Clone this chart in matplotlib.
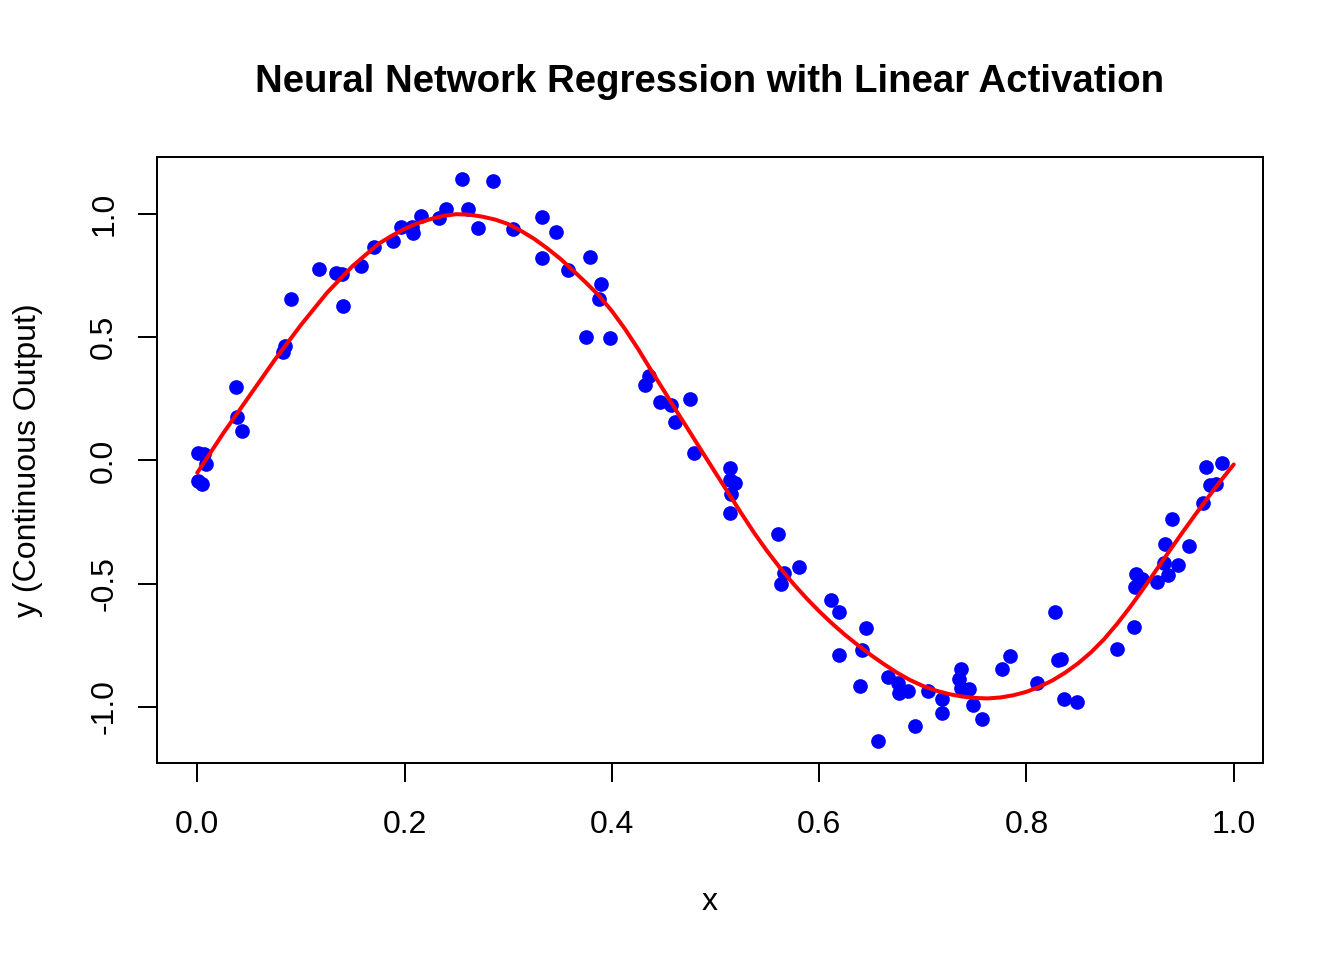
import matplotlib
matplotlib.use('Agg')
import matplotlib.pyplot as plt

plt.rcParams['font.family'] = ['Liberation Sans', 'DejaVu Sans']

x_obs = [0.001, 0.007, 0.008, 0.0007, 0.005, 0.037, 0.038, 0.043, 0.083, 0.085,
         0.090, 0.117, 0.134, 0.140, 0.141, 0.158, 0.171, 0.189, 0.197, 0.2075,
         0.208, 0.216, 0.233, 0.240, 0.255, 0.261, 0.271, 0.2857, 0.305, 0.333,
         0.346, 0.333, 0.358, 0.379, 0.3897, 0.388, 0.375, 0.398, 0.4357, 0.432,
         0.4466, 0.457, 0.475, 0.461, 0.479, 0.514, 0.514, 0.519, 0.515, 0.514,
         0.560, 0.566, 0.5634, 0.581, 0.6117, 0.619, 0.645, 0.641, 0.619, 0.6397,
         0.657, 0.666, 0.676, 0.677, 0.686, 0.705, 0.6925, 0.719, 0.719, 0.737,
         0.7345, 0.737, 0.7445, 0.748, 0.757, 0.776, 0.784, 0.8105, 0.828, 0.830,
         0.833, 0.836, 0.849, 0.887, 0.9035, 0.906, 0.9045, 0.9118, 0.9255, 0.9366,
         0.9463, 0.9324, 0.934, 0.957, 0.940, 0.9704, 0.977, 0.9833, 0.973, 0.9887]
y_obs = [0.030, 0.025, -0.013, -0.085, -0.097, 0.300, 0.175, 0.118, 0.440, 0.465,
         0.656, 0.777, 0.760, 0.757, 0.627, 0.790, 0.868, 0.891, 0.949, 0.946,
         0.922, 0.994, 0.983, 1.021, 1.141, 1.021, 0.944, 1.135, 0.938, 0.989,
         0.928, 0.823, 0.774, 0.828, 0.715, 0.654, 0.503, 0.496, 0.345, 0.306,
         0.237, 0.226, 0.249, 0.158, 0.030, -0.030, -0.080, -0.093, -0.138, -0.215,
         -0.300, -0.456, -0.503, -0.434, -0.567, -0.615, -0.682, -0.768, -0.788, -0.916,
         -1.137, -0.880, -0.902, -0.942, -0.936, -0.936, -1.076, -0.970, -1.026, -0.848,
         -0.888, -0.925, -0.929, -0.994, -1.050, -0.845, -0.794, -0.905, -0.615, -0.810,
         -0.807, -0.970, -0.980, -0.764, -0.675, -0.462, -0.514, -0.480, -0.493, -0.465,
         -0.426, -0.415, -0.341, -0.348, -0.239, -0.174, -0.101, -0.097, -0.027, -0.009]

# fitted network output, read every 0.0125 along x
x_fit = [i * 0.0125 for i in range(81)]
y_fit = [-0.05, 0.03, 0.11, 0.185, 0.26, 0.335, 0.41, 0.48, 0.55, 0.615,
         0.68, 0.735, 0.79, 0.835, 0.88, 0.912, 0.94, 0.963, 0.98, 0.993,
         1.00, 0.998, 0.99, 0.978, 0.96, 0.932, 0.90, 0.862, 0.82, 0.772,
         0.722, 0.67, 0.607, 0.535, 0.455, 0.369, 0.285, 0.20, 0.117, 0.033,
         -0.05, -0.133, -0.215, -0.295, -0.369, -0.437, -0.50, -0.558, -0.612, -0.662,
         -0.708, -0.75, -0.79, -0.827, -0.861, -0.891, -0.915, -0.934, -0.948, -0.958,
         -0.964, -0.966, -0.962, -0.953, -0.939, -0.919, -0.893, -0.861, -0.823, -0.778,
         -0.725, -0.663, -0.595, -0.522, -0.446, -0.37, -0.295, -0.222, -0.151, -0.082,
         -0.016]

x_ticks = [0.0, 0.2, 0.4, 0.6, 0.8, 1.0]
y_ticks = [-1.0, -0.5, 0.0, 0.5, 1.0]

W, H = 1344, 960
fig = plt.figure(figsize=(7, 5), dpi=192)
ax = fig.add_axes([157 / W, 1 - 763 / H, (1263 - 157) / W, (763 - 157) / H])

ax.plot(x_obs, y_obs, 'o', color='blue', markersize=5.5, markeredgewidth=0, zorder=2)
ax.plot(x_fit, y_fit, color='red', linewidth=1.5, solid_joinstyle='round',
        solid_capstyle='round', zorder=3)

# R style 4% padding around the points
xmin, xmax = min(x_obs), max(x_obs)
ymin, ymax = min(y_obs), max(y_obs)
ax.set_xlim(xmin - 0.04 * (xmax - xmin), xmax + 0.04 * (xmax - xmin))
ax.set_ylim(ymin - 0.04 * (ymax - ymin), ymax + 0.04 * (ymax - ymin))

ax.set_xticks(x_ticks)
ax.set_xticklabels(['%.1f' % v for v in x_ticks])
ax.set_yticks(y_ticks)
ax.set_yticklabels(['%.1f' % v for v in y_ticks], rotation=90, va='center')
ax.tick_params(direction='out', length=7.2, width=0.75, labelsize=12, colors='black')
ax.tick_params(axis='x', pad=10.5)
ax.tick_params(axis='y', pad=7)
for s in ax.spines.values():
    s.set_linewidth(0.75)

fig.text(710 / W, 1 - 82 / H, 'Neural Network Regression with Linear Activation',
         ha='center', va='center', fontsize=14.4, fontweight='bold')
fig.text(710 / W, 1 - 902 / H, 'x', ha='center', va='center', fontsize=12)
fig.text(28 / W, 1 - 460 / H, 'y (Continuous Output)', ha='center', va='center',
         rotation=90, fontsize=12)

fig.savefig('out.png', dpi=192)
